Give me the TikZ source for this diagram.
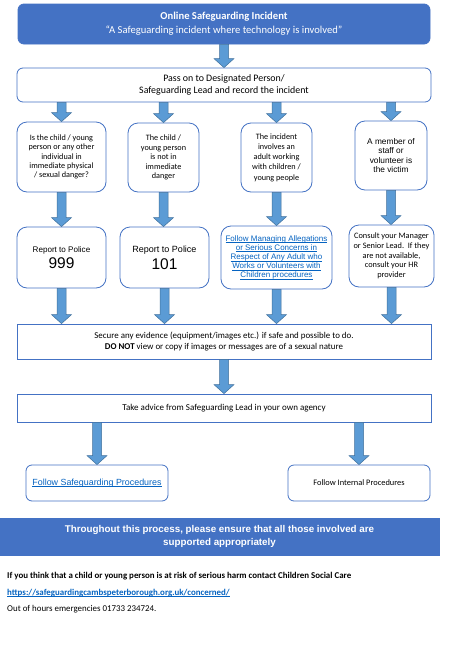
\documentclass[tikz,border=0pt]{standalone}
\usepackage{fontspec}
\setmainfont{Carlito}
\newfontfamily\arialf{Liberation Sans}
\usetikzlibrary{calc}
\definecolor{hdrblue}{HTML}{4472C4}
\definecolor{arrfill}{HTML}{5B9BD5}
\definecolor{arrline}{HTML}{41719C}
\definecolor{linkblue}{HTML}{0563C1}
\newcommand{\fsz}[2]{\fontsize{#1}{#2}\selectfont}
\newcommand{\lnk}[1]{\underline{\raisebox{0pt}[\height][0pt]{#1}}}
\begin{document}
\begin{tikzpicture}[x=1pt,y=-1pt,
 box/.style={draw=hdrblue, line width=0.8pt, fill=white, align=center, inner sep=0pt, text=black},
 rbox/.style={box, rounded corners=6pt},
 qbox/.style={box, rounded corners=10pt},
 barrow/.style={draw=arrline, fill=arrfill, line width=0.5pt,
   to path={let \p1=(\tikztostart), \p2=(\tikztotarget) in
     (\x1-4.5pt,\y1) -- (\x1-4.5pt,\y2+9pt) -- (\x1-10pt,\y2+9pt) -- (\x1,\y2)
     -- (\x1+10pt,\y2+9pt) -- (\x1+4.5pt,\y2+9pt) -- (\x1+4.5pt,\y1) -- cycle}},
 foot/.style={anchor=base west, inner sep=0pt, text=black}
]
\fill[white] (0,0) rectangle (474,648);
\useasboundingbox (0,0) rectangle (474,648);

% header
\node[rbox, fill=hdrblue, text=white, minimum width=412pt, minimum height=40pt, font={\fsz{10.6}{14}}] (top) at (224,24)
  {\textbf{Online Safeguarding Incident}\\“A Safeguarding incident where technology is involved”};
\node[rbox, minimum width=414pt, minimum height=34pt, font={\fsz{9.9}{11.5}}] (pass) at (224,85)
  {Pass on to Designated Person/\\Safeguarding Lead and record the incident};

% questions
\node[qbox, minimum width=89pt, minimum height=70pt, font={\fsz{8.2}{9.4}}] (q1) at (61.5,157)
  {Is the child / young\\person or any other\\individual in\\immediate physical\\/ sexual danger?};
\node[qbox, minimum width=71pt, minimum height=69pt, font={\fsz{8.2}{9.6}}] (q2) at (163.5,157.5)
  {The child /\\young person\\is not in\\immediate\\danger};
\node[qbox, minimum width=71pt, minimum height=69pt, font={\fsz{8.2}{10.2}}] (q3) at (276.5,157.5)
  {The incident\\involves an\\adult working\\with children /\\young people};
\node[qbox, minimum width=72pt, minimum height=69pt, font={\arialf\fsz{8.3}{9.2}}] (q4) at (391,155.5)
  {A member of\\staff or\\volunteer is\\the victim};

% responses
\node[qbox, minimum width=89pt, minimum height=61pt, font={\arialf\fsz{8.1}{9.5}}] (r1) at (61.5,257.5)
  {Report to Police\\[3pt]{\fsz{15.5}{15.5}\selectfont 999}};
\node[qbox, minimum width=89pt, minimum height=61pt, font={\arialf\fsz{9}{10}}] (r2) at (164.5,257.5)
  {Report to Police\\[3pt]{\fsz{15.5}{15.5}\selectfont 101}};
\node[qbox, minimum width=111pt, minimum height=63pt, text=linkblue, font={\arialf\fsz{8}{9.2}}] (r3) at (276.5,257.5)
  {\lnk{Follow Managing Allegations}\\\lnk{or Serious Concerns in}\\\lnk{Respect of Any Adult who}\\\lnk{Works or Volunteers with}\\\lnk{Children procedures}};
\node[qbox, minimum width=85pt, minimum height=62pt, font={\fsz{8.3}{9.7}}] (r4) at (391.5,256)
  {Consult your Manager\\or Senior Lead.\ \ If they\\are not available,\\consult your HR\\provider};

% secure and advice
\node[box, minimum width=414pt, minimum height=35pt, font={\fsz{8.9}{10.7}}] (sec) at (224,341.5)
  {Secure any evidence (equipment/images etc.) if safe and possible to do.\\\textbf{DO NOT} view or copy if images or messages are of a sexual nature};
\node[box, minimum width=414pt, minimum height=28pt, font={\fsz{9}{10}}] (adv) at (224,408)
  {Take advice from Safeguarding Lead in your own agency};

% outcomes
\node[rbox, minimum width=142pt, minimum height=36pt, text=linkblue, font={\arialf\fsz{8.9}{10}}] (fs) at (97,483)
  {\lnk{Follow Safeguarding Procedures}};
\node[rbox, minimum width=142pt, minimum height=36pt, font={\fsz{8.4}{10}}] (fi) at (359,483)
  {Follow Internal Procedures};

% banner
\node[box, draw=hdrblue, fill=hdrblue, text=white, minimum width=439pt, minimum height=37pt, font={\arialf\bfseries\fsz{9.8}{12.3}}] (ban) at (219.5,536.5)
  {Throughout this process, please ensure that all those involved are\\supported appropriately};

% footer text
\node[foot, font={\fsz{8.9}{10}\bfseries}] (f1) at (7,578)
  {If you think that a child or young person is at risk of serious harm contact Children Social Care};
\node[foot, text=linkblue, font={\fsz{8.9}{10}\bfseries}] (f2) at (7,595)
  {\lnk{https://safeguardingcambspeterborough.org.uk/concerned/}};
\node[foot, font={\fsz{8.9}{10}}] (f3) at (7,611)
  {Out of hours emergencies 01733 234724.};

% arrows
\path[barrow] (top.south) to (pass.north);
\path[barrow] (pass.south -| q1.north) to (q1.north);
\path[barrow] (pass.south -| q2.north) to (q2.north);
\path[barrow] (pass.south -| q3.north) to (q3.north);
\path[barrow] (pass.south -| q4.north) to (q4.north);
\path[barrow] (q1.south) to (q1.south |- r1.north);
\path[barrow] (q2.south) to (q2.south |- r2.north);
\path[barrow] (q3.south) to (q3.south |- r3.north);
\path[barrow] (q4.south) to (q4.south |- r4.north);
\path[barrow] (r1.south) to (r1.south |- sec.north);
\path[barrow] (r2.south) to (r2.south |- sec.north);
\path[barrow] (r3.south) to (r3.south |- sec.north);
\path[barrow] (r4.south) to (r4.south |- sec.north);
\path[barrow] (sec.south) to (adv.north);
\path[barrow] (adv.south -| fs.north) to (fs.north);
\path[barrow] (adv.south -| fi.north) to (fi.north);
\end{tikzpicture}
\end{document}
